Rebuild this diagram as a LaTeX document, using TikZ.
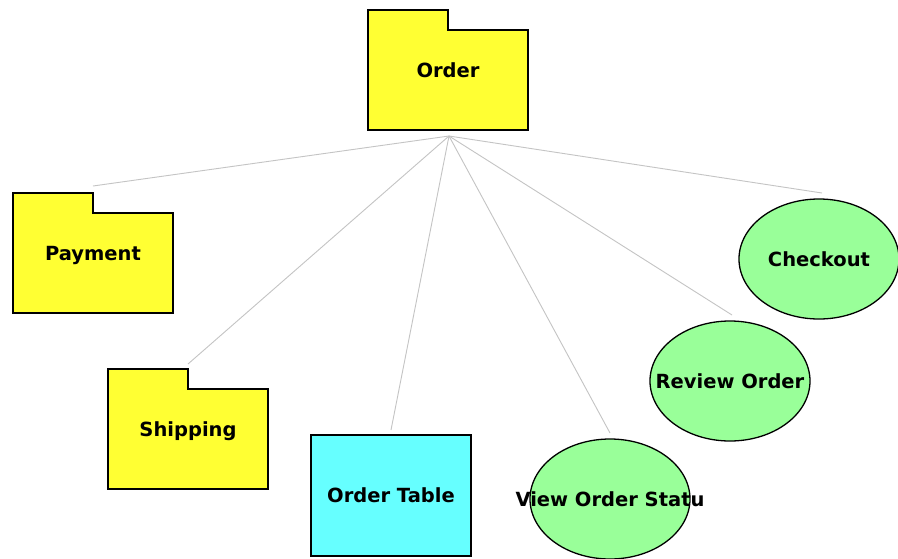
\documentclass[tikz,border=0pt]{standalone}
\usepackage{fontspec}
\setmainfont{DejaVu Sans}
\usetikzlibrary{shapes.geometric,calc,backgrounds}
\definecolor{pkgyellow}{RGB}{255,255,51}
\definecolor{tablecyan}{RGB}{102,255,255}
\definecolor{usecasegreen}{RGB}{153,255,153}
\definecolor{linkgray}{RGB}{196,196,196}

% folder outline of a package node: tab on the left half
\newcommand\folderoutline[1]{%
  \draw[folder] (#1.north west) -- ++(80,0) -- ++(0,20) -- ++(80,0)
    -- (#1.south east) -- (#1.south west) -- cycle;}

\begin{document}
\begin{tikzpicture}[x=1pt,y=-1pt,
  lbl/.style={font=\bfseries\fontsize{19.5}{21}\selectfont,
    text height=14pt, text depth=0pt},
  pkg/.style={lbl, rectangle, minimum width=160pt, minimum height=120pt,
    inner sep=0pt, outer sep=0pt},
  folder/.style={fill=pkgyellow, draw=black, line width=1.4pt, line join=miter},
  tablebox/.style={lbl, rectangle, draw=black, line width=1.4pt, fill=tablecyan,
    minimum width=160pt, minimum height=121pt, inner sep=0pt, outer sep=0pt},
  usecase/.style={lbl, ellipse, draw=black, line width=1.3pt, fill=usecasegreen,
    minimum width=160pt, minimum height=120pt, inner sep=0pt, outer sep=0pt},
  link/.style={draw=linkgray, line width=0.9pt}]

\useasboundingbox (0,0) rectangle (898,558);

% packages
\node[pkg] (order)    at (448,70)  {Order};
\node[pkg] (payment)  at (93,253)  {Payment};
\node[pkg] (shipping) at (188,429) {Shipping};

% class
\node[tablebox] (table) at (391,495.5) {Order Table};

% use cases
\node[usecase] (checkout) at (819,259) {\makebox[0pt]{Checkout}};
\node[usecase] (review)   at (730,381) {\makebox[0pt]{Review Order}};
\node[usecase] (status)   at (610,499) {\makebox[0pt]{View Order Statu}};

\begin{scope}[on background layer]
  \fill[white] (0,0) rectangle (898,558);
  \folderoutline{order}
  \folderoutline{payment}
  \folderoutline{shipping}

  \coordinate (hub) at ($(order.south)+(1,6)$);
  \draw[link] (hub) -- ($(payment.north)+(0,-7)$);
  \draw[link] (hub) -- ($(shipping.north)+(0,-5)$);
  \draw[link] (hub) -- ($(table.north)+(0,-5)$);
  \draw[link] (hub) -- ($(status.north)+(0,-6)$);
  \draw[link] (hub) -- ($(review.north)+(2,-6)$);
  \draw[link] (hub) -- ($(checkout.north)+(3,-6)$);
\end{scope}
\end{tikzpicture}
\end{document}
